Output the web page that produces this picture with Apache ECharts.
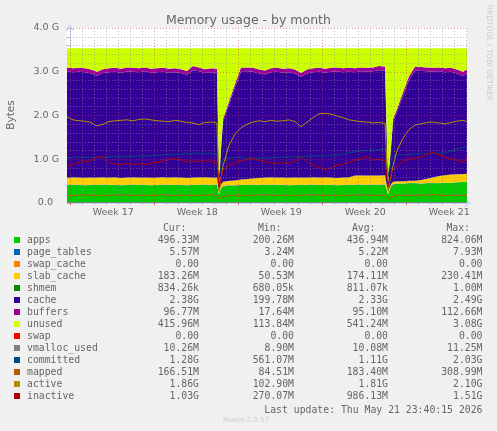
<!DOCTYPE html>
<html>
<head>
<meta charset="utf-8">
<title>Memory usage - by month</title>
<script src="https://cdn.jsdelivr.net/npm/echarts@6.0.0/dist/echarts.min.js"></script>
<style>
  html, body { margin: 0; padding: 0; background: #f0f0f0; }
  #main { width: 497px; height: 431px; }
</style>
</head>
<body>
<div id="main"></div>
<script>
// time axis in days, 0 = start of week 17
const xs = [-0.25, 0.25, 0.75, 1.25, 1.75, 2.25, 2.75, 3.25, 3.75, 4.25, 4.75, 5.25, 5.75, 6.25, 6.75, 7.25, 7.75, 8.25, 8.75, 9.25, 9.75, 10.25, 10.75, 11.25, 11.75, 12.25,
  12.42, 12.58, 12.75, 13.25, 13.75, 14.25,
  14.75, 15.25, 15.75, 16.25, 16.75, 17.25, 17.75, 18.25, 18.75, 19.25, 19.75, 20.25, 20.75, 21.25, 21.75, 22.25, 22.75, 23.25, 23.75, 24.25, 24.75, 25.25, 25.75, 26.25,
  26.5, 26.75, 26.92, 27.25, 27.75, 28.25, 28.75, 29.25, 29.75, 30.25, 30.75, 31.25, 31.75, 32.25, 32.75, 33.08];

// values in G (1024^3 bytes)
const apps = [0.41, 0.42, 0.41, 0.40, 0.41, 0.41, 0.42, 0.41, 0.41, 0.40, 0.41, 0.42, 0.41, 0.41, 0.40, 0.41, 0.42, 0.41, 0.41, 0.41, 0.40, 0.41, 0.41, 0.42, 0.41, 0.41,
  0.20, 0.33, 0.38, 0.40, 0.40, 0.41,
  0.41, 0.41, 0.41, 0.41, 0.42, 0.41, 0.41, 0.40, 0.41, 0.41, 0.41, 0.42, 0.41, 0.41, 0.41, 0.40, 0.41, 0.41, 0.42, 0.42, 0.41, 0.42, 0.42, 0.42,
  0.20, 0.38, 0.43, 0.44, 0.44, 0.45, 0.45, 0.44, 0.45, 0.45, 0.45, 0.46, 0.46, 0.47, 0.48, 0.485];
const page_tables = [0.005, 0.005, 0.005, 0.005, 0.005, 0.005, 0.005, 0.005, 0.005, 0.005, 0.005, 0.005, 0.005, 0.005, 0.005, 0.005, 0.005, 0.005, 0.005, 0.005, 0.005, 0.005, 0.005, 0.005, 0.005, 0.005,
  0.005, 0.005, 0.005, 0.005, 0.005, 0.005,
  0.005, 0.005, 0.005, 0.005, 0.005, 0.005, 0.005, 0.005, 0.005, 0.005, 0.005, 0.005, 0.005, 0.005, 0.005, 0.005, 0.005, 0.005, 0.005, 0.005, 0.005, 0.005, 0.005, 0.005,
  0.005, 0.005, 0.005, 0.005, 0.005, 0.005, 0.005, 0.005, 0.005, 0.005, 0.005, 0.005, 0.005, 0.005, 0.005, 0.005];
const swap_cache = [0, 0, 0, 0, 0, 0, 0, 0, 0, 0, 0, 0, 0, 0, 0, 0, 0, 0, 0, 0, 0, 0, 0, 0, 0, 0,
  0, 0, 0, 0, 0, 0,
  0, 0, 0, 0, 0, 0, 0, 0, 0, 0, 0, 0, 0, 0, 0, 0, 0, 0, 0, 0, 0, 0, 0, 0,
  0, 0, 0, 0, 0, 0, 0, 0, 0, 0, 0, 0, 0, 0, 0, 0];
const slab_cache = [0.165, 0.16, 0.165, 0.17, 0.165, 0.165, 0.16, 0.165, 0.17, 0.165, 0.165, 0.16, 0.165, 0.165, 0.17, 0.165, 0.165, 0.165, 0.17, 0.165, 0.165, 0.165, 0.17, 0.165, 0.165, 0.165,
  0.05, 0.08, 0.10, 0.10, 0.11, 0.12,
  0.13, 0.145, 0.155, 0.165, 0.16, 0.165, 0.165, 0.17, 0.165, 0.165, 0.165, 0.165, 0.165, 0.17, 0.165, 0.165, 0.165, 0.17, 0.205, 0.205, 0.21, 0.205, 0.205, 0.21,
  0.05, 0.05, 0.05, 0.05, 0.05, 0.05, 0.055, 0.08, 0.10, 0.13, 0.16, 0.17, 0.185, 0.18, 0.175, 0.18];
const shmem = [0.001, 0.001, 0.001, 0.001, 0.001, 0.001, 0.001, 0.001, 0.001, 0.001, 0.001, 0.001, 0.001, 0.001, 0.001, 0.001, 0.001, 0.001, 0.001, 0.001, 0.001, 0.001, 0.001, 0.001, 0.001, 0.001,
  0.001, 0.001, 0.001, 0.001, 0.001, 0.001,
  0.001, 0.001, 0.001, 0.001, 0.001, 0.001, 0.001, 0.001, 0.001, 0.001, 0.001, 0.001, 0.001, 0.001, 0.001, 0.001, 0.001, 0.001, 0.001, 0.001, 0.001, 0.001, 0.001, 0.001,
  0.001, 0.001, 0.001, 0.001, 0.001, 0.001, 0.001, 0.001, 0.001, 0.001, 0.001, 0.001, 0.001, 0.001, 0.001, 0.001];
const cache = [2.429, 2.404, 2.419, 2.414, 2.379, 2.329, 2.384, 2.409, 2.414, 2.409, 2.424, 2.414, 2.409, 2.429, 2.404, 2.409, 2.409, 2.399, 2.404, 2.389, 2.359, 2.454, 2.424, 2.379, 2.409, 2.399,
  0.194, 0.794, 1.374, 1.744, 2.124, 2.474,
  2.464, 2.439, 2.389, 2.359, 2.404, 2.419, 2.399, 2.414, 2.379, 2.299, 2.379, 2.399, 2.419, 2.394, 2.419, 2.434, 2.409, 2.414, 2.359, 2.379, 2.374, 2.379, 2.404, 2.394,
  0.194, 0.824, 1.374, 1.584, 1.954, 2.309, 2.519, 2.494, 2.454, 2.414, 2.394, 2.354, 2.349, 2.304, 2.244, 2.294];
const buffers = [0.09, 0.09, 0.09, 0.09, 0.09, 0.09, 0.09, 0.09, 0.09, 0.09, 0.095, 0.09, 0.09, 0.09, 0.09, 0.09, 0.09, 0.09, 0.09, 0.09, 0.09, 0.095, 0.09, 0.09, 0.09, 0.09,
  0.02, 0.04, 0.06, 0.07, 0.08, 0.09,
  0.09, 0.09, 0.09, 0.09, 0.09, 0.09, 0.09, 0.09, 0.09, 0.09, 0.09, 0.09, 0.09, 0.09, 0.09, 0.095, 0.09, 0.09, 0.09, 0.09, 0.09, 0.09, 0.095, 0.09,
  0.02, 0.04, 0.06, 0.07, 0.08, 0.085, 0.09, 0.09, 0.09, 0.09, 0.09, 0.09, 0.09, 0.09, 0.095, 0.095];
const unused = [0.44, 0.46, 0.45, 0.46, 0.49, 0.54, 0.48, 0.46, 0.45, 0.47, 0.44, 0.45, 0.46, 0.44, 0.47, 0.46, 0.45, 0.47, 0.46, 0.48, 0.52, 0.41, 0.44, 0.48, 0.46, 0.47,
  3.07, 2.29, 1.62, 1.22, 0.82, 0.44,
  0.44, 0.45, 0.49, 0.51, 0.46, 0.45, 0.47, 0.46, 0.49, 0.57, 0.49, 0.46, 0.45, 0.47, 0.45, 0.44, 0.46, 0.45, 0.46, 0.44, 0.45, 0.44, 0.41, 0.42,
  3.07, 2.24, 1.62, 1.39, 1.01, 0.64, 0.42, 0.43, 0.44, 0.45, 0.44, 0.46, 0.45, 0.49, 0.54, 0.48];
const swap = [0, 0, 0, 0, 0, 0, 0, 0, 0, 0, 0, 0, 0, 0, 0, 0, 0, 0, 0, 0, 0, 0, 0, 0, 0, 0,
  0, 0, 0, 0, 0, 0,
  0, 0, 0, 0, 0, 0, 0, 0, 0, 0, 0, 0, 0, 0, 0, 0, 0, 0, 0, 0, 0, 0, 0, 0,
  0, 0, 0, 0, 0, 0, 0, 0, 0, 0, 0, 0, 0, 0, 0, 0];
const vmalloc_used = [0.0098, 0.0098, 0.0098, 0.0098, 0.0098, 0.0098, 0.0098, 0.0098, 0.0098, 0.0098, 0.0098, 0.0098, 0.0098, 0.0098, 0.0098, 0.0098, 0.0098, 0.0098, 0.0098, 0.0098, 0.0098, 0.0098, 0.0098, 0.0098, 0.0098, 0.0098,
  0.0087, 0.0092, 0.0095, 0.0098, 0.0098, 0.0098,
  0.0098, 0.0098, 0.0098, 0.0098, 0.0098, 0.0098, 0.0098, 0.0098, 0.0098, 0.0098, 0.0098, 0.0098, 0.0098, 0.0098, 0.0098, 0.0098, 0.0098, 0.0098, 0.0098, 0.0098, 0.0098, 0.0098, 0.0098, 0.0098,
  0.0087, 0.0092, 0.0095, 0.0098, 0.0098, 0.0098, 0.0098, 0.0098, 0.0098, 0.0098, 0.0098, 0.0098, 0.0098, 0.0098, 0.01, 0.01];
const committed = [1.04, 1.04, 1.05, 1.04, 1.05, 1.04, 1.05, 1.05, 1.06, 1.06, 1.06, 1.07, 1.07, 1.08, 1.08, 1.09, 1.10, 1.11, 1.11, 1.12, 1.13, 1.13, 1.14, 1.13, 1.14, 1.12,
  0.57, 0.85, 1.00, 1.03, 1.04, 1.04,
  1.03, 1.03, 1.02, 1.03, 1.04, 1.04, 1.05, 1.05, 1.06, 1.06, 1.07, 1.07, 1.08, 1.08, 1.09, 1.10, 1.12, 1.15, 1.17, 1.19, 1.20, 1.21, 1.22, 1.23,
  0.60, 0.95, 1.08, 1.10, 1.10, 1.11, 1.12, 1.13, 1.13, 1.14, 1.14, 1.15, 1.18, 1.24, 1.27, 1.28];
const mapped = [0.18, 0.17, 0.18, 0.19, 0.17, 0.18, 0.18, 0.17, 0.18, 0.19, 0.18, 0.17, 0.18, 0.18, 0.17, 0.18, 0.19, 0.18, 0.17, 0.18, 0.18, 0.17, 0.18, 0.18, 0.19, 0.17,
  0.09, 0.12, 0.15, 0.17, 0.18, 0.18,
  0.17, 0.18, 0.18, 0.19, 0.18, 0.17, 0.18, 0.18, 0.17, 0.18, 0.18, 0.19, 0.18, 0.17, 0.18, 0.18, 0.18, 0.17, 0.18, 0.19, 0.18, 0.18, 0.17, 0.18,
  0.09, 0.13, 0.15, 0.17, 0.18, 0.18, 0.17, 0.18, 0.18, 0.19, 0.18, 0.17, 0.18, 0.18, 0.17, 0.17];
const active = [1.97, 1.90, 1.88, 1.87, 1.84, 1.76, 1.80, 1.86, 1.88, 1.89, 1.90, 1.88, 1.91, 1.92, 1.90, 1.88, 1.87, 1.86, 1.89, 1.87, 1.84, 1.83, 1.79, 1.84, 1.85, 1.83,
  0.26, 0.55, 0.85, 1.32, 1.58, 1.72,
  1.80, 1.85, 1.88, 1.86, 1.89, 1.87, 1.88, 1.90, 1.86, 1.74, 1.85, 1.95, 2.04, 2.05, 2.03, 1.99, 1.95, 1.90, 1.88, 1.86, 1.85, 1.83, 1.84, 1.82,
  0.28, 0.62, 0.85, 1.20, 1.48, 1.68, 1.78, 1.81, 1.84, 1.85, 1.83, 1.81, 1.84, 1.87, 1.89, 1.86];
const inactive = [0.84, 0.88, 0.93, 0.95, 0.96, 1.05, 1.06, 0.92, 0.90, 0.88, 0.91, 0.87, 0.90, 0.88, 0.92, 0.93, 0.95, 1.00, 1.01, 0.99, 0.93, 0.96, 0.94, 0.97, 0.95, 0.92,
  0.36, 0.55, 0.75, 0.86, 0.92, 0.97,
  0.99, 1.02, 0.97, 0.94, 0.92, 0.90, 0.93, 0.91, 0.95, 1.05, 0.95, 0.86, 0.82, 0.76, 0.80, 0.87, 0.88, 0.93, 0.98, 1.00, 1.07, 0.98, 1.00, 0.97,
  0.37, 0.65, 0.76, 0.85, 0.96, 1.00, 1.03, 1.05, 1.12, 1.16, 1.10, 1.05, 1.01, 0.98, 0.93, 1.03];

// axis labels
const weekNames = ['Week 17', 'Week 18', 'Week 19', 'Week 20', 'Week 21'];
const weekLabelAt = [3.6, 10.6, 17.6, 24.6, 31.6];
const weekStarts = [0, 7, 14, 21, 28];
const yLabelAt = [0, 1, 2, 3, 4];
const yLabels = ['0.0  ', '1.0 G', '2.0 G', '3.0 G', '4.0 G'];

// legend table
const legendNames = ['apps', 'page_tables', 'swap_cache', 'slab_cache', 'shmem', 'cache', 'buffers', 'unused', 'swap', 'vmalloc_used', 'committed', 'mapped', 'active', 'inactive'];
const legendColors = ['#00CC00', '#0066B3', '#FF8000', '#FFCC00', '#008F00', '#330099', '#990099', '#CCFF00', '#FF0000', '#808080', '#00487D', '#B35A00', '#B38F00', '#B30000'];
const curVals = ['496.33M', '5.57M', '0.00', '183.26M', '834.26k', '2.38G', '96.77M', '415.96M', '0.00', '10.26M', '1.28G', '166.51M', '1.86G', '1.03G'];
const minVals = ['200.26M', '3.24M', '0.00', '50.53M', '680.05k', '199.78M', '17.64M', '113.84M', '0.00', '8.90M', '561.07M', '84.51M', '102.90M', '270.07M'];
const avgVals = ['436.94M', '5.22M', '0.00', '174.11M', '811.07k', '2.33G', '95.10M', '541.24M', '0.00', '10.08M', '1.11G', '183.40M', '1.81G', '986.13M'];
const maxVals = ['824.06M', '7.93M', '0.00', '230.41M', '1.00M', '2.49G', '112.66M', '3.08G', '0.00', '11.25M', '2.03G', '308.99M', '2.10G', '1.51G'];

const seriesValues = [apps, page_tables, swap_cache, slab_cache, shmem, cache, buffers, unused, swap, vmalloc_used, committed, mapped, active, inactive];
// apps..swap are stacked areas; swap_cache and swap are all zero, so they add no band
const stacked = [true, true, false, true, true, true, true, true, false, false, false, false, false, false];
const emptyBand = [false, false, true, false, false, false, false, false, true, false, false, false, false, false];

const FONT = '"DejaVu Sans", sans-serif';
const MONO = '"DejaVu Sans Mono", monospace';
const TEXT = '#666666';
const AXIS = '#CFD6F8';
const GRID_MINOR = 'rgba(140,140,140,0.55)';
const GRID_MAJOR = 'rgba(200,60,60,0.5)';

let myChart = echarts.init(document.getElementById('main'));

// dotted grid drawn over the areas, like rrdtool does
let dayTicks = [];
let gridLines = [];
for (let d = 0; d <= 33; d++) {
  dayTicks.push(d);
  gridLines.push({ xAxis: d, lineStyle: { color: weekStarts.indexOf(d) >= 0 ? GRID_MAJOR : GRID_MINOR, type: [1, 2], width: 1 } });
}
for (let k = 1; k <= 20; k++) {
  gridLines.push({ yAxis: k / 5, lineStyle: { color: k % 5 === 0 ? GRID_MAJOR : GRID_MINOR, type: [1, 2], width: 1 } });
}

let series = seriesValues.map(function (vals, i) {
  let s = {
    name: legendNames[i],
    type: 'line',
    data: xs.map(function (x, j) { return [x, vals[j]]; }),
    showSymbol: false,
    symbol: 'none',
    silent: true,
    animation: false,
    itemStyle: { color: legendColors[i] },
    lineStyle: { color: legendColors[i], width: 1 }
  };
  if (stacked[i]) {
    // value in the first column so ECharts stacks the y values, not the x ones
    s.data = xs.map(function (x, j) { return [vals[j], x]; });
    s.encode = { x: 1, y: 0 };
    s.stack = 'mem';
    s.areaStyle = { color: legendColors[i], opacity: 1 };
    s.lineStyle = { width: 0 };
  }
  if (emptyBand[i]) {
    s.lineStyle = { width: 0 };
  }
  return s;
});
series[series.length - 1].markLine = {
  silent: true,
  animation: false,
  symbol: ['none', 'none'],
  label: { show: false },
  data: gridLines
};

// legend table + misc texts
let graphics = [];
const colRight = [199, 294, 388, 482.5];
const colData = [curVals, minVals, avgVals, maxVals];
const colHead = ['Cur:', 'Min:', 'Avg:', 'Max:'];
colHead.forEach(function (h, c) {
  graphics.push({ type: 'text', x: colRight[c] - 12.5, y: 228, style: { text: h, fill: TEXT, font: '9.8px ' + MONO, textAlign: 'right', textVerticalAlign: 'middle' } });
});
legendNames.forEach(function (name, i) {
  let y = 240 + i * 12;
  graphics.push({ type: 'rect', shape: { x: 14, y: y - 3, width: 6, height: 6 }, style: { fill: legendColors[i] } });
  graphics.push({ type: 'text', x: 27, y: y, style: { text: name, fill: TEXT, font: '9.8px ' + MONO, textVerticalAlign: 'middle' } });
  colData.forEach(function (vals, c) {
    graphics.push({ type: 'text', x: colRight[c], y: y, style: { text: vals[i], fill: TEXT, font: '9.8px ' + MONO, textAlign: 'right', textVerticalAlign: 'middle' } });
  });
});
graphics.push({ type: 'text', x: 482.5, y: 410, style: { text: 'Last update: Thu May 21 23:40:15 2026', fill: TEXT, font: '9.8px ' + MONO, textAlign: 'right', textVerticalAlign: 'middle' } });
graphics.push({ type: 'text', x: 11, y: 115, rotation: Math.PI / 2, style: { text: 'Bytes', fill: TEXT, font: '10.5px ' + FONT, textAlign: 'center', textVerticalAlign: 'middle' } });
graphics.push({ type: 'text', x: 489, y: 53, rotation: -Math.PI / 2, style: { text: 'RRDTOOL / TOBI OETIKER', fill: '#cccccc', font: '7.5px ' + FONT, textAlign: 'center', textVerticalAlign: 'middle' } });
graphics.push({ type: 'text', x: 246, y: 420, style: { text: 'Munin 2.0.57', fill: '#cccccc', font: '7px ' + FONT, textAlign: 'center', textVerticalAlign: 'middle' } });

let option = {
  backgroundColor: '#F0F0F0',
  animation: false,
  title: {
    text: 'Memory usage - by month',
    left: 'center',
    top: 9,
    textStyle: { fontFamily: FONT, fontSize: 12.5, fontWeight: 'normal', color: TEXT }
  },
  grid: {
    left: 67, right: 30, top: 28, bottom: 228,
    show: true, backgroundColor: '#FFFFFF', borderWidth: 0
  },
  xAxis: [
    {
      type: 'value', min: -0.25, max: 33.08, position: 'bottom',
      axisLine: { show: true, lineStyle: { color: AXIS, width: 1 }, symbol: ['none', 'arrow'], symbolSize: [7, 7], symbolOffset: [0, 4] },
      axisTick: { show: true, customValues: dayTicks, length: 2, lineStyle: { color: '#bbbbbb' } },
      axisLabel: {
        customValues: weekLabelAt,
        formatter: function (v) {
          for (let i = 0; i < weekLabelAt.length; i++) if (Math.abs(weekLabelAt[i] - v) < 1e-6) return weekNames[i];
          return '';
        },
        color: TEXT, fontFamily: FONT, fontSize: 9.5, margin: 5
      },
      splitLine: { show: false }
    },
    {
      type: 'value', min: -0.25, max: 33.08, position: 'bottom',
      axisLine: { show: false },
      axisTick: { show: true, customValues: weekStarts, length: 2, lineStyle: { color: '#e06060' } },
      axisLabel: { show: false },
      splitLine: { show: false }
    }
  ],
  yAxis: {
    type: 'value', min: 0, max: 4, interval: 0.2,
    axisLine: { show: true, lineStyle: { color: AXIS, width: 1 }, symbol: ['none', 'arrow'], symbolSize: [7, 7], symbolOffset: [0, 4] },
    axisTick: { show: true, length: 3, lineStyle: { color: '#bbbbbb' } },
    axisLabel: {
      customValues: yLabelAt,
      formatter: function (v) {
        for (let i = 0; i < yLabelAt.length; i++) if (Math.abs(yLabelAt[i] - v) < 1e-6) return yLabels[i];
        return '';
      },
      color: TEXT, fontFamily: FONT, fontSize: 9.5, margin: 8
    },
    splitLine: { show: false }
  },
  graphic: graphics,
  series: series
};
myChart.setOption(option);
</script>
</body>
</html>
